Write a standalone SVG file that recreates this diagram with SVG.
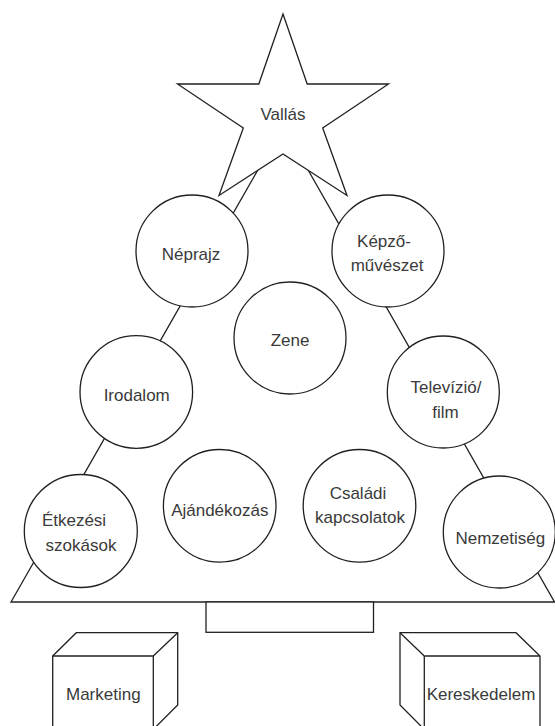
<svg xmlns="http://www.w3.org/2000/svg" width="555" height="726" viewBox="0 0 555 726">
<style>
.ln{fill:#fff;stroke:#231f20;stroke-width:1.3;stroke-linejoin:miter}
.t{font-family:"Liberation Sans",Arial,sans-serif;font-size:17px;fill:#3a3a3a;text-anchor:middle}
</style>
<rect width="555" height="726" fill="#fff"/>
<g id="connectors">
<polygon class="ln" points="283,126 11,602 554.5,602"/>
</g>
<g id="trunk">
<rect class="ln" x="206" y="602" width="167.5" height="30.3"/>
</g>
<g id="vallas">
<polygon class="ln" points="283,14 307.2,84 388.5,84 322.7,128 347,195.5 283,154 219,195.5 243.3,128 177.5,84 258.8,84"/>
<text class="t" x="283" y="120">Vallás</text>
</g>
<g id="neprajz">
<circle class="ln" cx="192" cy="251" r="56"/>
<text class="t" x="191" y="260">Néprajz</text>
</g>
<g id="kepzomuveszet">
<circle class="ln" cx="388" cy="251" r="56"/>
<text class="t" x="384" y="246.5">Képző-</text>
<text class="t" x="387" y="270.5">művészet</text>
</g>
<g id="zene">
<circle class="ln" cx="290" cy="338" r="56"/>
<text class="t" x="290" y="345.5">Zene</text>
</g>
<g id="irodalom">
<circle class="ln" cx="136.3" cy="392" r="56.3"/>
<text class="t" x="136.7" y="400.5">Irodalom</text>
</g>
<g id="televizio">
<circle class="ln" cx="443.3" cy="392" r="56"/>
<text class="t" x="446" y="393">Televízió/</text>
<text class="t" x="445.5" y="418">film</text>
</g>
<g id="etkezesi">
<circle class="ln" cx="80.8" cy="531" r="56.5"/>
<text class="t" x="74" y="526">Étkezési</text>
<text class="t" x="81" y="551">szokások</text>
</g>
<g id="ajandekozas">
<circle class="ln" cx="219.7" cy="505.8" r="56.3"/>
<text class="t" x="219.8" y="516">Ajándékozás</text>
</g>
<g id="csaladi">
<circle class="ln" cx="359.5" cy="505.8" r="56.3"/>
<text class="t" x="358" y="499.3">Családi</text>
<text class="t" x="360" y="523.3">kapcsolatok</text>
</g>
<g id="nemzetiseg">
<circle class="ln" cx="499.3" cy="532" r="56"/>
<text class="t" x="500.3" y="544">Nemzetiség</text>
</g>
<g id="marketing">
<polygon class="ln" points="52.7,656 76.3,632.7 177.7,632.7 177.7,705 153.3,729.4 52.7,729.4"/>
<line class="ln" x1="52.7" y1="656" x2="153.3" y2="656"/>
<line class="ln" x1="153.3" y1="656" x2="177.7" y2="632.7"/>
<line class="ln" x1="153.3" y1="656" x2="153.3" y2="729.4"/>
<text class="t" x="103.3" y="700">Marketing</text>
</g>
<g id="kereskedelem">
<polygon class="ln" points="400,632.7 516,632.7 540,656 540,729.4 424.3,729.4 400,705"/>
<line class="ln" x1="424.3" y1="656" x2="540" y2="656"/>
<line class="ln" x1="424.3" y1="656" x2="400" y2="632.7"/>
<line class="ln" x1="424.3" y1="656" x2="424.3" y2="729.4"/>
<text class="t" x="481" y="700">Kereskedelem</text>
</g>
</svg>
